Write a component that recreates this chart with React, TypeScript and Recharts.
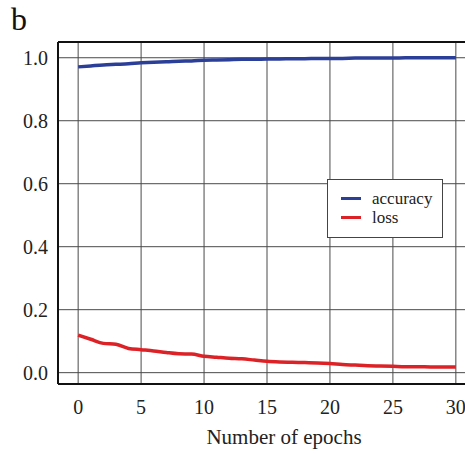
import {
  CartesianGrid,
  Label,
  Line,
  LineChart,
  ReferenceLine,
  XAxis,
  YAxis
} from 'recharts'

// epoch numbers, 0..30
const epochs = [
  0, 1, 2, 3, 4, 5, 6, 7, 8, 9, 10, 11, 12, 13, 14, 15, 16, 17, 18, 19, 20,
  21, 22, 23, 24, 25, 26, 27, 28, 29, 30
]

const accuracy = [
  0.971, 0.974, 0.977, 0.979, 0.981, 0.984, 0.986, 0.987, 0.989, 0.99, 0.992,
  0.993, 0.994, 0.995, 0.995, 0.996, 0.996, 0.997, 0.997, 0.998, 0.998, 0.998,
  0.999, 0.999, 0.999, 0.999, 1.0, 1.0, 1.0, 1.0, 1.0
]

const loss = [
  0.119, 0.106, 0.093, 0.09, 0.077, 0.073, 0.069, 0.064, 0.06, 0.059, 0.052,
  0.049, 0.046, 0.044, 0.04, 0.036, 0.034, 0.033, 0.032, 0.031, 0.029, 0.026,
  0.024, 0.022, 0.021, 0.02, 0.019, 0.019, 0.018, 0.018, 0.018
]

const xTicks = [0, 5, 10, 15, 20, 25, 30]
const yTicks = [0, 0.2, 0.4, 0.6, 0.8, 1.0]

const series = [
  { key: 'accuracy', name: 'accuracy', color: '#2c3f98' },
  { key: 'loss', name: 'loss', color: '#dc2226' }
]

const data = epochs.map((e, i) => ({
  epoch: e,
  accuracy: accuracy[i],
  loss: loss[i]
}))

const FONT = '"Liberation Serif", "Times New Roman", serif'

// legend box drawn over the plot, same place as in the figure
function LegendBox() {
  return (
    <div
      style={{
        position: 'absolute',
        left: 327,
        top: 179,
        width: 116,
        height: 59,
        boxSizing: 'border-box',
        border: '1px solid #444',
        background: '#fff',
        fontFamily: FONT,
        fontSize: 17,
        color: '#222',
        padding: '9px 0 0 13px',
        lineHeight: '19px'
      }}
    >
      {series.map(s => (
        <div key={s.key} style={{ display: 'flex', alignItems: 'center' }}>
          <span
            style={{
              display: 'inline-block',
              width: 20,
              height: 3,
              background: s.color,
              marginRight: 11
            }}
          />
          <span>{s.name}</span>
        </div>
      ))}
    </div>
  )
}

export default function App() {
  return (
    <div
      style={{
        position: 'fixed',
        left: 0,
        top: 0,
        width: 465,
        height: 456,
        overflow: 'hidden',
        background: '#fff'
      }}
    >
      <div
        style={{
          position: 'absolute',
          left: 11,
          top: 1,
          fontFamily: FONT,
          fontSize: 32,
          color: '#111'
        }}
      >
        b
      </div>
      <LineChart
        width={480}
        height={456}
        data={data}
        margin={{ top: 42, right: 4, bottom: 0, left: 0 }}
        style={{ position: 'absolute', left: 0, top: 0 }}
      >
        <CartesianGrid stroke='#4a4a4a' strokeWidth={1} />
        <XAxis
          dataKey='epoch'
          type='number'
          domain={[-1.6, 31.6]}
          ticks={xTicks}
          tickLine={false}
          tickMargin={10}
          axisLine={{ stroke: '#111', strokeWidth: 2 }}
          tick={{ fill: '#222', fontSize: 20, fontFamily: FONT }}
          height={72}
        >
          <Label
            value='Number of epochs'
            position='insideBottom'
            offset={12}
            dx={17}
            style={{ fill: '#222', fontSize: 21, fontFamily: FONT }}
          />
        </XAxis>
        <YAxis
          type='number'
          domain={[-0.036, 1.05]}
          ticks={yTicks}
          tickFormatter={(v: number) => v.toFixed(1)}
          tickLine={false}
          tickMargin={4}
          width={58}
          axisLine={{ stroke: '#111', strokeWidth: 2 }}
          tick={{ fill: '#222', fontSize: 20, fontFamily: FONT }}
        />
        <ReferenceLine y={1.05} stroke='#111' strokeWidth={2} />
        {series.map(s => (
          <Line
            key={s.key}
            dataKey={s.key}
            name={s.name}
            stroke={s.color}
            strokeWidth={3.5}
            dot={false}
            type='monotone'
            isAnimationActive={false}
          />
        ))}
      </LineChart>
      <LegendBox />
    </div>
  )
}
